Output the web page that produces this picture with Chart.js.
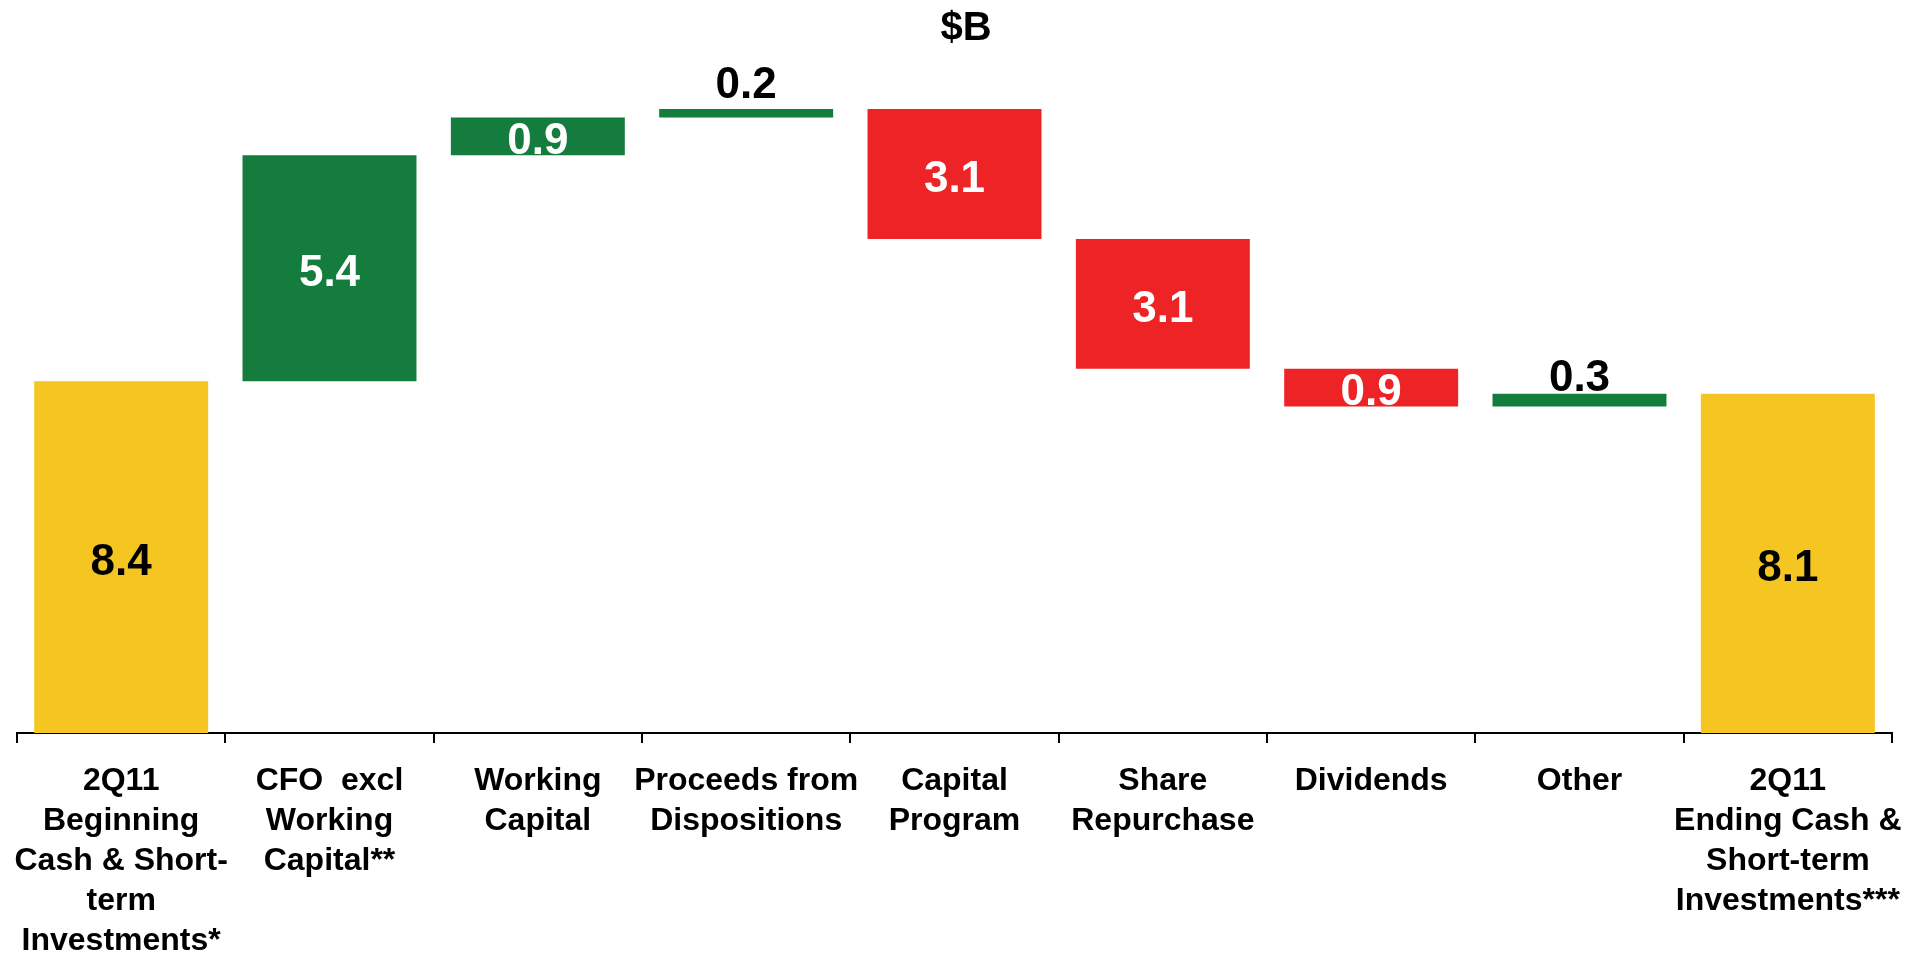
<!DOCTYPE html>
<html><head><meta charset="utf-8">
<script src="https://cdn.jsdelivr.net/npm/chart.js@4.4.0/dist/chart.umd.min.js"></script>
<style>html,body{margin:0;padding:0;background:#fff;overflow:hidden}canvas{display:block}</style>
</head><body>
<canvas id="c" width="1909" height="956"></canvas>
<script>
const categories = [
  ['2Q11', 'Beginning', 'Cash & Short-', 'term', 'Investments*'],
  ['CFO  excl', 'Working', 'Capital**'],
  ['Working', 'Capital'],
  ['Proceeds from', 'Dispositions'],
  ['Capital', 'Program'],
  ['Share', 'Repurchase'],
  ['Dividends'],
  ['Other'],
  ['2Q11', 'Ending Cash &', 'Short-term', 'Investments***']
];
const changes = [8.4, 5.4, 0.9, 0.2, -3.1, -3.1, -0.9, 0.3, 8.1];
const kinds = ['total', 'increase', 'increase', 'increase', 'decrease', 'decrease', 'decrease', 'increase', 'total'];
const valueLabels = ['8.4', '5.4', '0.9', '0.2', '3.1', '3.1', '0.9', '0.3', '8.1'];
const yRange = [0, 16];
const titleText = '$B';

// styling (not data)
const FONT = '"Liberation Sans", Arial, sans-serif';
const kindColor = { total: '#F5C622', increase: '#147D3E', decrease: '#EE2326' };
const aboveGap = { 3: 11, 7: 3 };

// build floating bars
let running = 0;
const floating = changes.map((v, i) => {
  if (kinds[i] === 'total') { running = v; return [0, v]; }
  const a = running, b = running + v; running = b;
  return [Math.min(a, b), Math.max(a, b)];
});

const labelPlugin = {
  id: 'wfLabels',
  afterDatasetsDraw(chart) {
    const ctx = chart.ctx;
    const meta = chart.getDatasetMeta(0);
    ctx.save();
    ctx.font = 'bold 44px ' + FONT;
    ctx.textAlign = 'center';
    ctx.textBaseline = 'alphabetic';
    meta.data.forEach((bar, i) => {
      const top = Math.min(bar.y, bar.base), bot = Math.max(bar.y, bar.base);
      const h = bot - top;
      const k = kinds[i];
      if (h < 25) {
        ctx.fillStyle = '#000';
        ctx.fillText(valueLabels[i], bar.x, top - (aboveGap[i] ?? 4));
      } else {
        ctx.fillStyle = k === 'total' ? '#000' : '#fff';
        ctx.fillText(valueLabels[i], bar.x, (top + bot) / 2 + 15.75 + 2);
      }
    });
    ctx.font = 'bold 40px ' + FONT;
    ctx.fillStyle = '#000';
    ctx.textBaseline = 'middle';
    ctx.fillText(titleText, 966, 29);
    ctx.restore();
  }
};

new Chart(document.getElementById('c'), {
  type: 'bar',
  data: {
    labels: categories,
    datasets: [{
      data: floating,
      backgroundColor: kinds.map(k => kindColor[k]),
      borderWidth: 0,
      borderSkipped: false,
      categoryPercentage: 1,
      barPercentage: 0.835
    }]
  },
  options: {
    responsive: false,
    animation: false,
    devicePixelRatio: 1,
    layout: { padding: { left: 17, right: 17, top: 63, bottom: 0 } },
    plugins: { legend: { display: false }, tooltip: { enabled: false }, title: { display: false } },
    scales: {
      x: {
        offset: true,
        grid: { display: true, offset: true, drawOnChartArea: false, drawTicks: true, tickLength: 10, color: '#000', lineWidth: 2 },
        border: { display: true, color: '#000', width: 2 },
        ticks: {
          color: '#000',
          padding: 18,
          maxRotation: 0,
          autoSkip: false,
          font: { family: FONT, size: 32, weight: 'bold', lineHeight: 1.25 }
        },
        afterFit(scale) {
          scale.height = 223;
          scale.paddingLeft = 0;
          scale.paddingRight = 0;
        }
      },
      y: {
        display: false,
        min: yRange[0],
        max: yRange[1]
      }
    }
  },
  plugins: [labelPlugin]
});
</script>
</body></html>
